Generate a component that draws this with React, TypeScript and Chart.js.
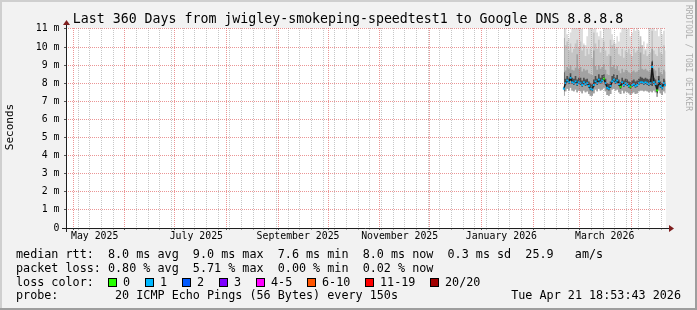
import React, { useEffect, useRef } from "react";
import { Chart, registerables } from "chart.js";

Chart.register(...registerables);

// ---------- texts ----------
const TITLE = "Last 360 Days from jwigley-smokeping-speedtest1 to Google DNS 8.8.8.8";
const Y_TITLE = "Seconds";
const WATERMARK = "RRDTOOL / TOBI OETIKER";
const RANGE_START = "2025-04-26T18:53:43Z";
const RANGE_END = "2026-04-21T18:53:43Z";

const ROW_MEDIAN = "median rtt:  8.0 ms avg  9.0 ms max  7.6 ms min  8.0 ms now  0.3 ms sd  25.9   am/s";
const ROW_LOSS = "packet loss: 0.80 % avg  5.71 % max  0.00 % min  0.02 % now";
const ROW_COLOR = "loss color:";
const ROW_PROBE = "probe:        20 ICMP Echo Pings (56 Bytes) every 150s";
const ROW_DATE = "Tue Apr 21 18:53:43 2026";

const lossLabels = ["0", "1", "2", "3", "4-5", "6-10", "11-19", "20/20"];
const lossColors = ["#26ff00", "#00b8ff", "#0059ff", "#7e00ff", "#ff00ff", "#ff5500", "#ff0000", "#a10000"];

// ---------- axes ----------
const xLabelTexts = ["May 2025", "July 2025", "September 2025", "November 2025", "January 2026", "March 2026"];
const xLabelDates = ["2025-05-14", "2025-07-14", "2025-09-13", "2025-11-13", "2026-01-13", "2026-03-16"];
const yMajorValues = [0, 1, 2, 3, 4, 5, 6, 7, 8, 9, 10, 11];
const yMajorLabels = ["0", "1 m", "2 m", "3 m", "4 m", "5 m", "6 m", "7 m", "8 m", "9 m", "10 m", "11 m"];
const Y_MAX = 11.05;

// ---------- data (ms) ----------
const sampleDates = [
  "2026-02-19", "2026-02-20", "2026-02-21", "2026-02-22", "2026-02-23", "2026-02-24", "2026-02-25", "2026-02-26", "2026-02-27", "2026-02-28",
  "2026-03-01", "2026-03-02", "2026-03-03", "2026-03-04", "2026-03-05", "2026-03-06", "2026-03-07", "2026-03-08", "2026-03-09", "2026-03-10",
  "2026-03-11", "2026-03-12", "2026-03-13", "2026-03-14", "2026-03-15", "2026-03-16", "2026-03-17", "2026-03-18", "2026-03-19", "2026-03-20",
  "2026-03-21", "2026-03-22", "2026-03-23", "2026-03-24", "2026-03-25", "2026-03-26", "2026-03-27", "2026-03-28", "2026-03-29", "2026-03-30",
  "2026-03-31", "2026-04-01", "2026-04-02", "2026-04-03", "2026-04-04", "2026-04-05", "2026-04-06", "2026-04-07", "2026-04-08", "2026-04-09",
  "2026-04-10", "2026-04-11", "2026-04-12", "2026-04-13", "2026-04-14", "2026-04-15", "2026-04-16", "2026-04-17", "2026-04-18", "2026-04-19",
  "2026-04-20", "2026-04-21",
];

const medianMs = [
  7.7, 8.0, 8.15, 8.05, 8.3, 8.05, 8.0, 8.1, 7.95, 8.05,
  8.0, 7.9, 8.05, 7.95, 8.0, 7.85, 7.7, 7.65, 7.9, 8.1,
  8.0, 8.2, 8.05, 8.15, 8.25, 8.0, 7.75, 7.7, 7.85, 8.1,
  8.2, 8.05, 8.15, 7.95, 7.8, 8.05, 7.9, 8.0, 7.95, 7.85,
  7.8, 7.9, 7.95, 7.85, 7.9, 8.0, 8.05, 8.05, 8.0, 8.05,
  8.0, 7.95, 8.0, 8.9, 8.05, 7.95, 7.6, 8.1, 7.85, 7.75,
  8.0, 7.9,
];

// lost pings per sample (index into lossColors)
const lossPings = [
  1, 1, 1, 1, 1, 1, 1, 1, 1, 1,
  1, 1, 1, 1, 1, 1, 1, 1, 1, 1,
  1, 1, 1, 1, 0, 1, 1, 1, 1, 1,
  1, 1, 1, 1, 0, 1, 1, 1, 1, 1,
  0, 1, 1, 1, 1, 1, 1, 1, 1, 1,
  1, 1, 1, 1, 1, 1, 0, 1, 1, 1,
  1, 1,
];

// smoke: ping distribution per sample
const minMs = [
  7.3, 7.55, 7.7, 7.6, 7.75, 7.6, 7.55, 7.65, 7.5, 7.6,
  7.55, 7.45, 7.6, 7.5, 7.55, 7.4, 7.3, 7.3, 7.45, 7.65,
  7.55, 7.7, 7.6, 7.65, 7.75, 7.55, 7.35, 7.3, 7.4, 7.65,
  7.7, 7.6, 7.65, 7.5, 7.4, 7.6, 7.45, 7.55, 7.5, 7.45,
  7.35, 7.45, 7.5, 7.4, 7.45, 7.55, 7.6, 7.6, 7.55, 7.6,
  7.55, 7.5, 7.55, 7.5, 7.6, 7.5, 7.25, 7.6, 7.45, 7.35,
  7.55, 7.45,
];

const lowMs = [
  7.55, 7.9, 8.05, 7.95, 8.15, 7.95, 7.9, 8.0, 7.85, 7.95,
  7.9, 7.8, 7.95, 7.85, 7.9, 7.75, 7.6, 7.55, 7.8, 8.0,
  7.9, 8.1, 7.95, 8.05, 8.15, 7.9, 7.65, 7.6, 7.75, 8.0,
  8.1, 7.95, 8.05, 7.85, 7.7, 7.95, 7.8, 7.9, 7.85, 7.75,
  7.7, 7.8, 7.85, 7.75, 7.8, 7.9, 7.95, 7.95, 7.9, 7.95,
  7.9, 7.85, 7.9, 7.85, 7.95, 7.85, 7.5, 8.0, 7.75, 7.65,
  7.9, 7.8,
];

const coreHighMs = [
  8.6, 8.25, 8.4, 8.3, 8.55, 8.3, 8.25, 8.4, 8.2, 8.3,
  8.3, 8.15, 8.3, 8.2, 8.25, 8.1, 8.0, 7.95, 8.2, 8.4,
  8.25, 8.5, 8.3, 8.45, 8.5, 8.25, 8.0, 7.95, 8.1, 8.4,
  8.5, 8.3, 8.45, 8.2, 8.05, 8.3, 8.15, 8.25, 8.2, 8.1,
  8.05, 8.15, 8.2, 8.1, 8.15, 8.25, 8.35, 8.3, 8.25, 8.3,
  8.25, 8.2, 8.25, 9.2, 8.3, 8.2, 7.9, 8.4, 8.1, 8.0,
  8.25, 8.15,
];

const upMs = [
  10.5, 8.7, 8.9, 8.8, 9.0, 8.75, 8.7, 8.85, 9.6, 8.8,
  8.9, 8.65, 8.8, 8.7, 8.75, 8.55, 8.5, 8.45, 9.8, 8.95,
  8.75, 9.0, 8.8, 8.9, 9.05, 8.75, 8.5, 8.45, 9.5, 8.9,
  9.0, 8.8, 8.95, 8.7, 8.55, 8.8, 8.6, 8.75, 8.7, 8.6,
  8.55, 8.65, 8.7, 8.6, 8.65, 8.75, 9.7, 8.8, 8.75, 8.8,
  8.7, 8.65, 8.75, 9.9, 8.8, 8.7, 8.4, 8.85, 8.6, 8.5,
  8.75, 8.65,
];

const highMs = [
  11.2, 10.1, 10.3, 9.8, 10.2, 9.7, 9.9, 10.2, 10.4, 10.0,
  10.3, 9.8, 10.1, 9.5, 9.9, 9.6, 9.9, 9.4, 10.8, 10.2,
  9.9, 10.4, 9.7, 10.0, 10.3, 9.8, 9.5, 9.6, 10.4, 10.1,
  10.2, 9.9, 10.0, 9.6, 9.5, 9.9, 9.4, 9.8, 9.7, 9.9,
  9.6, 9.5, 9.9, 9.7, 9.8, 10.0, 10.6, 10.1, 9.6, 9.8,
  9.5, 9.6, 9.7, 10.9, 9.8, 9.6, 9.5, 10.0, 9.7, 9.6,
  10.1, 9.8,
];

const maxMs = [
  11.4, 11.2, 10.7, 10.5, 10.8, 11.3, 11.2, 11.4, 11.1, 11.3,
  11.2, 11.0, 10.2, 10.1, 10.6, 11.3, 11.4, 11.2, 11.0, 11.3,
  10.8, 10.6, 10.9, 10.5, 11.2, 11.1, 11.4, 11.2, 11.0, 10.7,
  10.4, 10.2, 10.6, 10.3, 10.8, 11.3, 11.4, 11.2, 11.0, 11.3,
  10.6, 10.8, 11.2, 10.9, 11.3, 10.9, 10.4, 10.1, 10.3, 9.9,
  10.2, 11.1, 11.0, 11.3, 11.4, 10.9, 11.2, 10.6, 11.0, 10.7,
  10.9, 11.2,
];

// ---------- styles ----------
const MONO = '"DejaVu Sans Mono", monospace';
const BG = "#f2f2f2";
const SHADE_A = "#cfcfcf";
const SHADE_B = "#9e9e9e";
const GRID_MINOR = "rgba(143,143,143,0.5)";
const GRID_MAJOR = "rgba(222,79,79,0.6)";
const AXIS = "#1f1f1f";
const ARROW = "#7f1f1f";

export default function App() {
  const ref = useRef<HTMLCanvasElement>(null);

  useEffect(() => {
    const canvas = ref.current;
    if (!canvas) return;
    const startMs = Date.parse(RANGE_START);
    const endMs = Date.parse(RANGE_END);
    const DAY = 86400000;

    // x ticks: weeks (Sunday), months, label positions
    const tickInfo = new Map<number, { kind: string; label?: string }>();
    let w = new Date(startMs);
    w.setUTCHours(0, 0, 0, 0);
    while (w.getUTCDay() !== 0 || w.getTime() - startMs < DAY) w = new Date(w.getTime() + DAY);
    for (let t = w.getTime(); t < endMs; t += 7 * DAY) tickInfo.set(t, { kind: "week" });
    const sd = new Date(startMs);
    let yy = sd.getUTCFullYear();
    let mm = sd.getUTCMonth() + 1;
    for (;;) {
      if (mm > 11) { mm = 0; yy++; }
      const t = Date.UTC(yy, mm, 1);
      if (t >= endMs) break;
      tickInfo.set(t, { kind: "month" });
      mm++;
    }
    xLabelDates.forEach((d, i) => tickInfo.set(Date.parse(d + "T00:00:00Z"), { kind: "label", label: xLabelTexts[i] }));
    const xTickValues = Array.from(tickInfo.keys()).sort((a, b) => a - b);

    const yTickValues: number[] = [];
    yMajorValues.forEach((v, i) => {
      yTickValues.push(v);
      if (i < yMajorValues.length - 1) yTickValues.push(v + 0.5);
    });

    const xs = sampleDates.map((d) => Date.parse(d + "T12:00:00Z"));
    const pts = (arr: number[]) => arr.map((v, i) => ({ x: xs[i], y: v }));
    const band = { pointRadius: 0, borderWidth: 0, borderColor: "rgba(0,0,0,0)", stepped: "middle" as const };

    const deco = {
      id: "rrdDeco",
      beforeDraw(chart: any) {
        const { ctx, chartArea: a } = chart;
        const W = chart.width, H = chart.height;
        ctx.save();
        ctx.fillStyle = BG;
        ctx.fillRect(0, 0, W, H);
        ctx.fillStyle = SHADE_A;
        ctx.fillRect(0, 0, W, 2);
        ctx.fillRect(0, 0, 2, H);
        ctx.fillStyle = SHADE_B;
        ctx.fillRect(0, H - 2, W, 2);
        ctx.fillRect(W - 2, 0, 2, H);
        ctx.fillStyle = "#ffffff";
        ctx.fillRect(a.left, a.top, a.right - a.left, a.bottom - a.top);
        ctx.restore();
      },
      afterDraw(chart: any) {
        const { ctx, chartArea: a } = chart;
        ctx.save();
        // axes
        const xl = Math.round(a.left) + 0.5;
        const yb = Math.round(a.bottom) + 0.5;
        ctx.strokeStyle = AXIS;
        ctx.lineWidth = 1;
        ctx.beginPath();
        ctx.moveTo(a.left - 4, yb);
        ctx.lineTo(a.right + 3, yb);
        ctx.moveTo(xl, a.bottom + 4);
        ctx.lineTo(xl, a.top - 4);
        ctx.stroke();
        ctx.fillStyle = ARROW;
        ctx.beginPath();
        ctx.moveTo(a.right + 3, yb - 3.5);
        ctx.lineTo(a.right + 8, yb);
        ctx.lineTo(a.right + 3, yb + 3.5);
        ctx.closePath();
        ctx.fill();
        ctx.beginPath();
        ctx.moveTo(xl - 3.5, a.top - 3);
        ctx.lineTo(xl, a.top - 8);
        ctx.lineTo(xl + 3.5, a.top - 3);
        ctx.closePath();
        ctx.fill();

        // title
        ctx.fillStyle = "#000";
        ctx.font = `13.25px ${MONO}`;
        ctx.textAlign = "center";
        ctx.textBaseline = "alphabetic";
        ctx.fillText(TITLE, 348, 23);

        // y title
        ctx.save();
        ctx.font = `11px ${MONO}`;
        ctx.translate(12.5, 127);
        ctx.rotate(-Math.PI / 2);
        ctx.textAlign = "center";
        ctx.fillText(Y_TITLE, 0, 0);
        ctx.restore();

        // watermark
        ctx.save();
        ctx.font = `8px ${MONO}`;
        ctx.fillStyle = "#adadad";
        ctx.translate(686, 5);
        ctx.rotate(Math.PI / 2);
        ctx.textAlign = "left";
        ctx.textBaseline = "alphabetic";
        ctx.fillText(WATERMARK, 0, 0);
        ctx.restore();

        // legend
        ctx.font = `11.75px ${MONO}`;
        ctx.fillStyle = "#000";
        ctx.textAlign = "left";
        ctx.textBaseline = "middle";
        const x0 = 16;
        ctx.fillText(ROW_MEDIAN, x0, 255);
        ctx.fillText(ROW_LOSS, x0, 268.5);
        ctx.fillText(ROW_COLOR, x0, 282.5);
        ctx.fillText(ROW_PROBE, x0, 296);
        ctx.textAlign = "right";
        ctx.fillText(ROW_DATE, 681, 296);
        ctx.textAlign = "left";
        let bx = 108;
        lossLabels.forEach((lab, i) => {
          ctx.fillStyle = lossColors[i];
          ctx.fillRect(bx, 278, 9, 9);
          ctx.strokeStyle = "#000";
          ctx.lineWidth = 1;
          ctx.strokeRect(bx + 0.5, 278.5, 8, 8);
          ctx.fillStyle = "#000";
          const tx = bx + 15;
          ctx.fillText(lab, tx, 282.5);
          bx = Math.round(tx + ctx.measureText(lab).width + 15);
        });
        ctx.restore();
      },
    };

    const chart = new Chart(canvas, {
      type: "line",
      data: {
        datasets: [
          { ...band, label: "max", data: pts(maxMs), fill: 1, backgroundColor: "#dddddd", order: 6 },
          { ...band, label: "min", data: pts(minMs), fill: false, order: 6 },
          { ...band, label: "p90", data: pts(highMs), fill: 1, backgroundColor: "#c4c4c4", order: 5 },
          { ...band, label: "p75", data: pts(upMs), fill: 1, backgroundColor: "#a2a2a2", order: 4 },
          { ...band, label: "p60", data: pts(coreHighMs), fill: 5, backgroundColor: "#4e4e4e", order: 3 },
          { ...band, label: "p25", data: pts(lowMs), fill: false, order: 3 },
          {
            label: "median", data: pts(medianMs), fill: false, pointRadius: 0,
            borderColor: "#1a1a1a", borderWidth: 1.5, order: 2,
          },
          {
            label: "median loss", data: pts(medianMs), fill: false, showLine: false,
            pointStyle: "rect", pointRadius: 1.4, pointBorderWidth: 0,
            pointBackgroundColor: (c: any) => lossColors[lossPings[c.dataIndex]],
            order: 1,
          },
        ] as any,
      },
      options: {
        responsive: false,
        animation: false,
        devicePixelRatio: 1,
        events: [],
        layout: { padding: { left: 16, right: 31, top: 28, bottom: 60 } },
        plugins: { legend: { display: false }, tooltip: { enabled: false }, title: { display: false } },
        scales: {
          x: {
            type: "linear",
            min: startMs,
            max: endMs,
            afterBuildTicks: (s: any) => { s.ticks = xTickValues.map((v) => ({ value: v })); },
            afterFit: (s: any) => { s.height = 22; },
            border: { display: false, dash: [1, 1] },
            grid: {
              z: 1,
              lineWidth: 1,
              tickLength: 2,
              color: (c: any) => {
                const k = tickInfo.get(c.tick?.value)?.kind;
                return k === "month" ? GRID_MAJOR : k === "week" ? GRID_MINOR : "rgba(0,0,0,0)";
              },
              tickColor: (c: any) => {
                const k = tickInfo.get(c.tick?.value)?.kind;
                return k === "month" ? "#555" : k === "week" ? "#aaa" : "rgba(0,0,0,0)";
              },
            },
            ticks: {
              autoSkip: false,
              maxRotation: 0,
              padding: 1,
              color: "#000",
              font: { family: MONO, size: 9.85 },
              callback: (v: any) => tickInfo.get(Number(v))?.label ?? "",
            },
          },
          y: {
            type: "linear",
            min: 0,
            max: Y_MAX,
            afterBuildTicks: (s: any) => { s.ticks = yTickValues.map((v) => ({ value: v })); },
            afterFit: (s: any) => { s.width = 50; },
            border: { display: false, dash: [1, 1] },
            grid: {
              z: 1,
              lineWidth: 1,
              tickLength: 2,
              color: (c: any) => {
                const v = c.tick?.value;
                if (v === 0) return "rgba(0,0,0,0)";
                return Number.isInteger(v) ? GRID_MAJOR : GRID_MINOR;
              },
              tickColor: (c: any) => (Number.isInteger(c.tick?.value) ? "#555" : "#aaa"),
            },
            ticks: {
              padding: 4.5,
              color: "#000",
              font: { family: MONO, size: 9.85 },
              callback: (v: any) => {
                const i = yMajorValues.indexOf(Number(v));
                return i >= 0 ? yMajorLabels[i] : "";
              },
            },
          },
        },
      } as any,
      plugins: [deco],
    });
    return () => chart.destroy();
  }, []);

  return (
    <div style={{ position: "absolute", left: 0, top: 0, width: 697, height: 310 }}>
      <canvas ref={ref} width={697} height={310} style={{ display: "block", width: 697, height: 310 }} />
    </div>
  );
}
